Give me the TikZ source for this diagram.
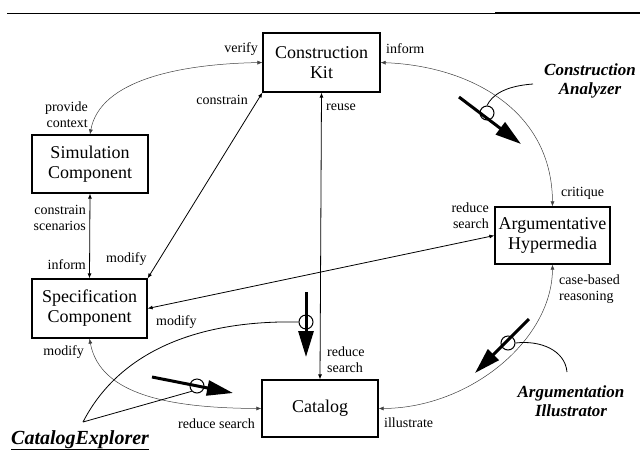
\documentclass[tikz,border=0pt]{standalone}
\usepackage{fontspec}
\setmainfont{Liberation Serif}
\usetikzlibrary{arrows.meta}
\begin{document}
\begin{tikzpicture}[x=1pt,y=-1pt,
  box/.style={draw,line width=1.2pt,align=center,inner sep=0pt,font=\fontsize{18}{20}\selectfont},
  lab/.style={font=\fontsize{14}{16}\selectfont,inner sep=0pt},
  agent/.style={font=\fontsize{17}{19}\selectfont\bfseries\itshape,align=center,inner sep=0pt},
  con/.style={line width=0.8pt,{Latex[length=5pt,width=4pt]}-{Latex[length=5pt,width=4pt]}},
  curv/.style={con,line width=0.5pt,draw=black!75},
  bigarrow/.style={line width=3pt,-{Triangle[length=26pt,width=15pt]}},
  ring/.style={circle,draw,line width=1pt,minimum size=14pt,inner sep=0pt},
  ptr/.style={line width=0.8pt}]
\useasboundingbox (0,0) rectangle (640,451);
% top rule
\draw[line width=0.8pt] (7,13) -- (640,13);
\draw[line width=1.3pt] (495,13) -- (640,13);
% boxes
\node[box,minimum width=117pt,minimum height=59pt] (ck) at (321.5,62.5) {Construction\\Kit};
\node[box,minimum width=116pt,minimum height=58pt] (sim) at (90,164) {Simulation\\Component};
\node[box,minimum width=115pt,minimum height=59pt] (spec) at (89.5,308.5) {Specification\\Component};
\node[box,minimum width=116pt,minimum height=57pt] (cat) at (320,408.5) {Catalog};
\node[box,minimum width=115pt,minimum height=57pt] (arg) at (552.5,235.5) {Argumentative\\Hypermedia};
% connectors
\draw[curv] (ck.west) .. controls (180,64) and (100,80) .. (sim.north);
\draw[con] (ck.south west) -- (spec.north east);
\draw[con] (ck.south) -- (cat.north);
\draw[con] (sim.south) -- (spec.north);
\draw[curv] (ck.east) .. controls (470,66) and (552,110) .. (arg.north);
\draw[con] (arg.west) -- (spec.east);
\draw[curv] (arg.south) .. controls (552,340) and (470,408) .. (cat.east);
\draw[curv] (spec.south) .. controls (100,395) and (170,408) .. (cat.west);
% labels
\node[lab,anchor=east] (l1) at (258,49) {verify};
\node[lab,anchor=east,align=right] (l2) at (88,115) {provide\\context};
\node[lab,anchor=east] (l3) at (248,100) {constrain};
\node[lab,anchor=east,align=right] (l4) at (86,218) {constrain\\scenarios};
\node[lab,anchor=east] (l5) at (86,265) {inform};
\node[lab,anchor=west] (l6) at (106,259) {modify};
\node[lab,anchor=west] (l7) at (156,322) {modify};
\node[lab,anchor=east] (l8) at (84,352) {modify};
\node[lab,anchor=east] (l9) at (255,424) {reduce search};
\node[lab,anchor=west] (l10) at (326,107) {reuse};
\node[lab,anchor=west,align=left] (l11) at (327,360) {reduce\\search};
\node[lab,anchor=west] (l12) at (386,49) {inform};
\node[lab,anchor=west] (l13) at (561,193) {critique};
\node[lab,anchor=east,align=right] (l14) at (489,216) {reduce\\search};
\node[lab,anchor=west,align=left] (l15) at (559,289) {case-based\\reasoning};
\node[lab,anchor=west] (l16) at (384,423) {illustrate};
% Construction Analyzer
\node[agent] (ca) at (590,81) {Construction\\Analyzer};
\node[ring] (r1) at (487,113) {};
\coordinate (a1s) at (459,97);
\coordinate (a1e) at (521,144);
\draw[bigarrow] (a1s) -- (a1e);
\coordinate (p1) at (533,84);
\draw[ptr] (p1) .. controls (505,86) and (492,95) .. (r1.north);
% Argumentation Illustrator
\node[agent] (ai) at (571,401) {Argumentation\\Illustrator};
\node[ring] (r2) at (508,343) {};
\coordinate (a2s) at (529,319);
\coordinate (a2e) at (475,373);
\draw[bigarrow] (a2s) -- (a2e);
\coordinate (p2) at (567,372);
\draw[ptr] (p2) .. controls (565,350) and (540,340) .. (r2.east);
% CatalogExplorer
\node[font=\fontsize{20}{22}\selectfont\bfseries\itshape,anchor=base west,inner sep=0pt] (ce) at (11,444) {\underline{CatalogExplorer}};
\coordinate (apex) at (83,422);
\node[ring] (r3) at (197,386) {};
\node[ring] (r4) at (306,322) {};
\draw[ptr] (apex) -- (r3.south west);
\draw[ptr] (apex) .. controls (120,350) and (200,320) .. (r4.west);
\coordinate (a3s) at (152,377);
\coordinate (a3e) at (233,393);
\draw[bigarrow] (a3s) -- (a3e);
\coordinate (a4s) at (306,292);
\coordinate (a4e) at (306,357);
\draw[bigarrow] (a4s) -- (a4e);
\end{tikzpicture}
\end{document}
